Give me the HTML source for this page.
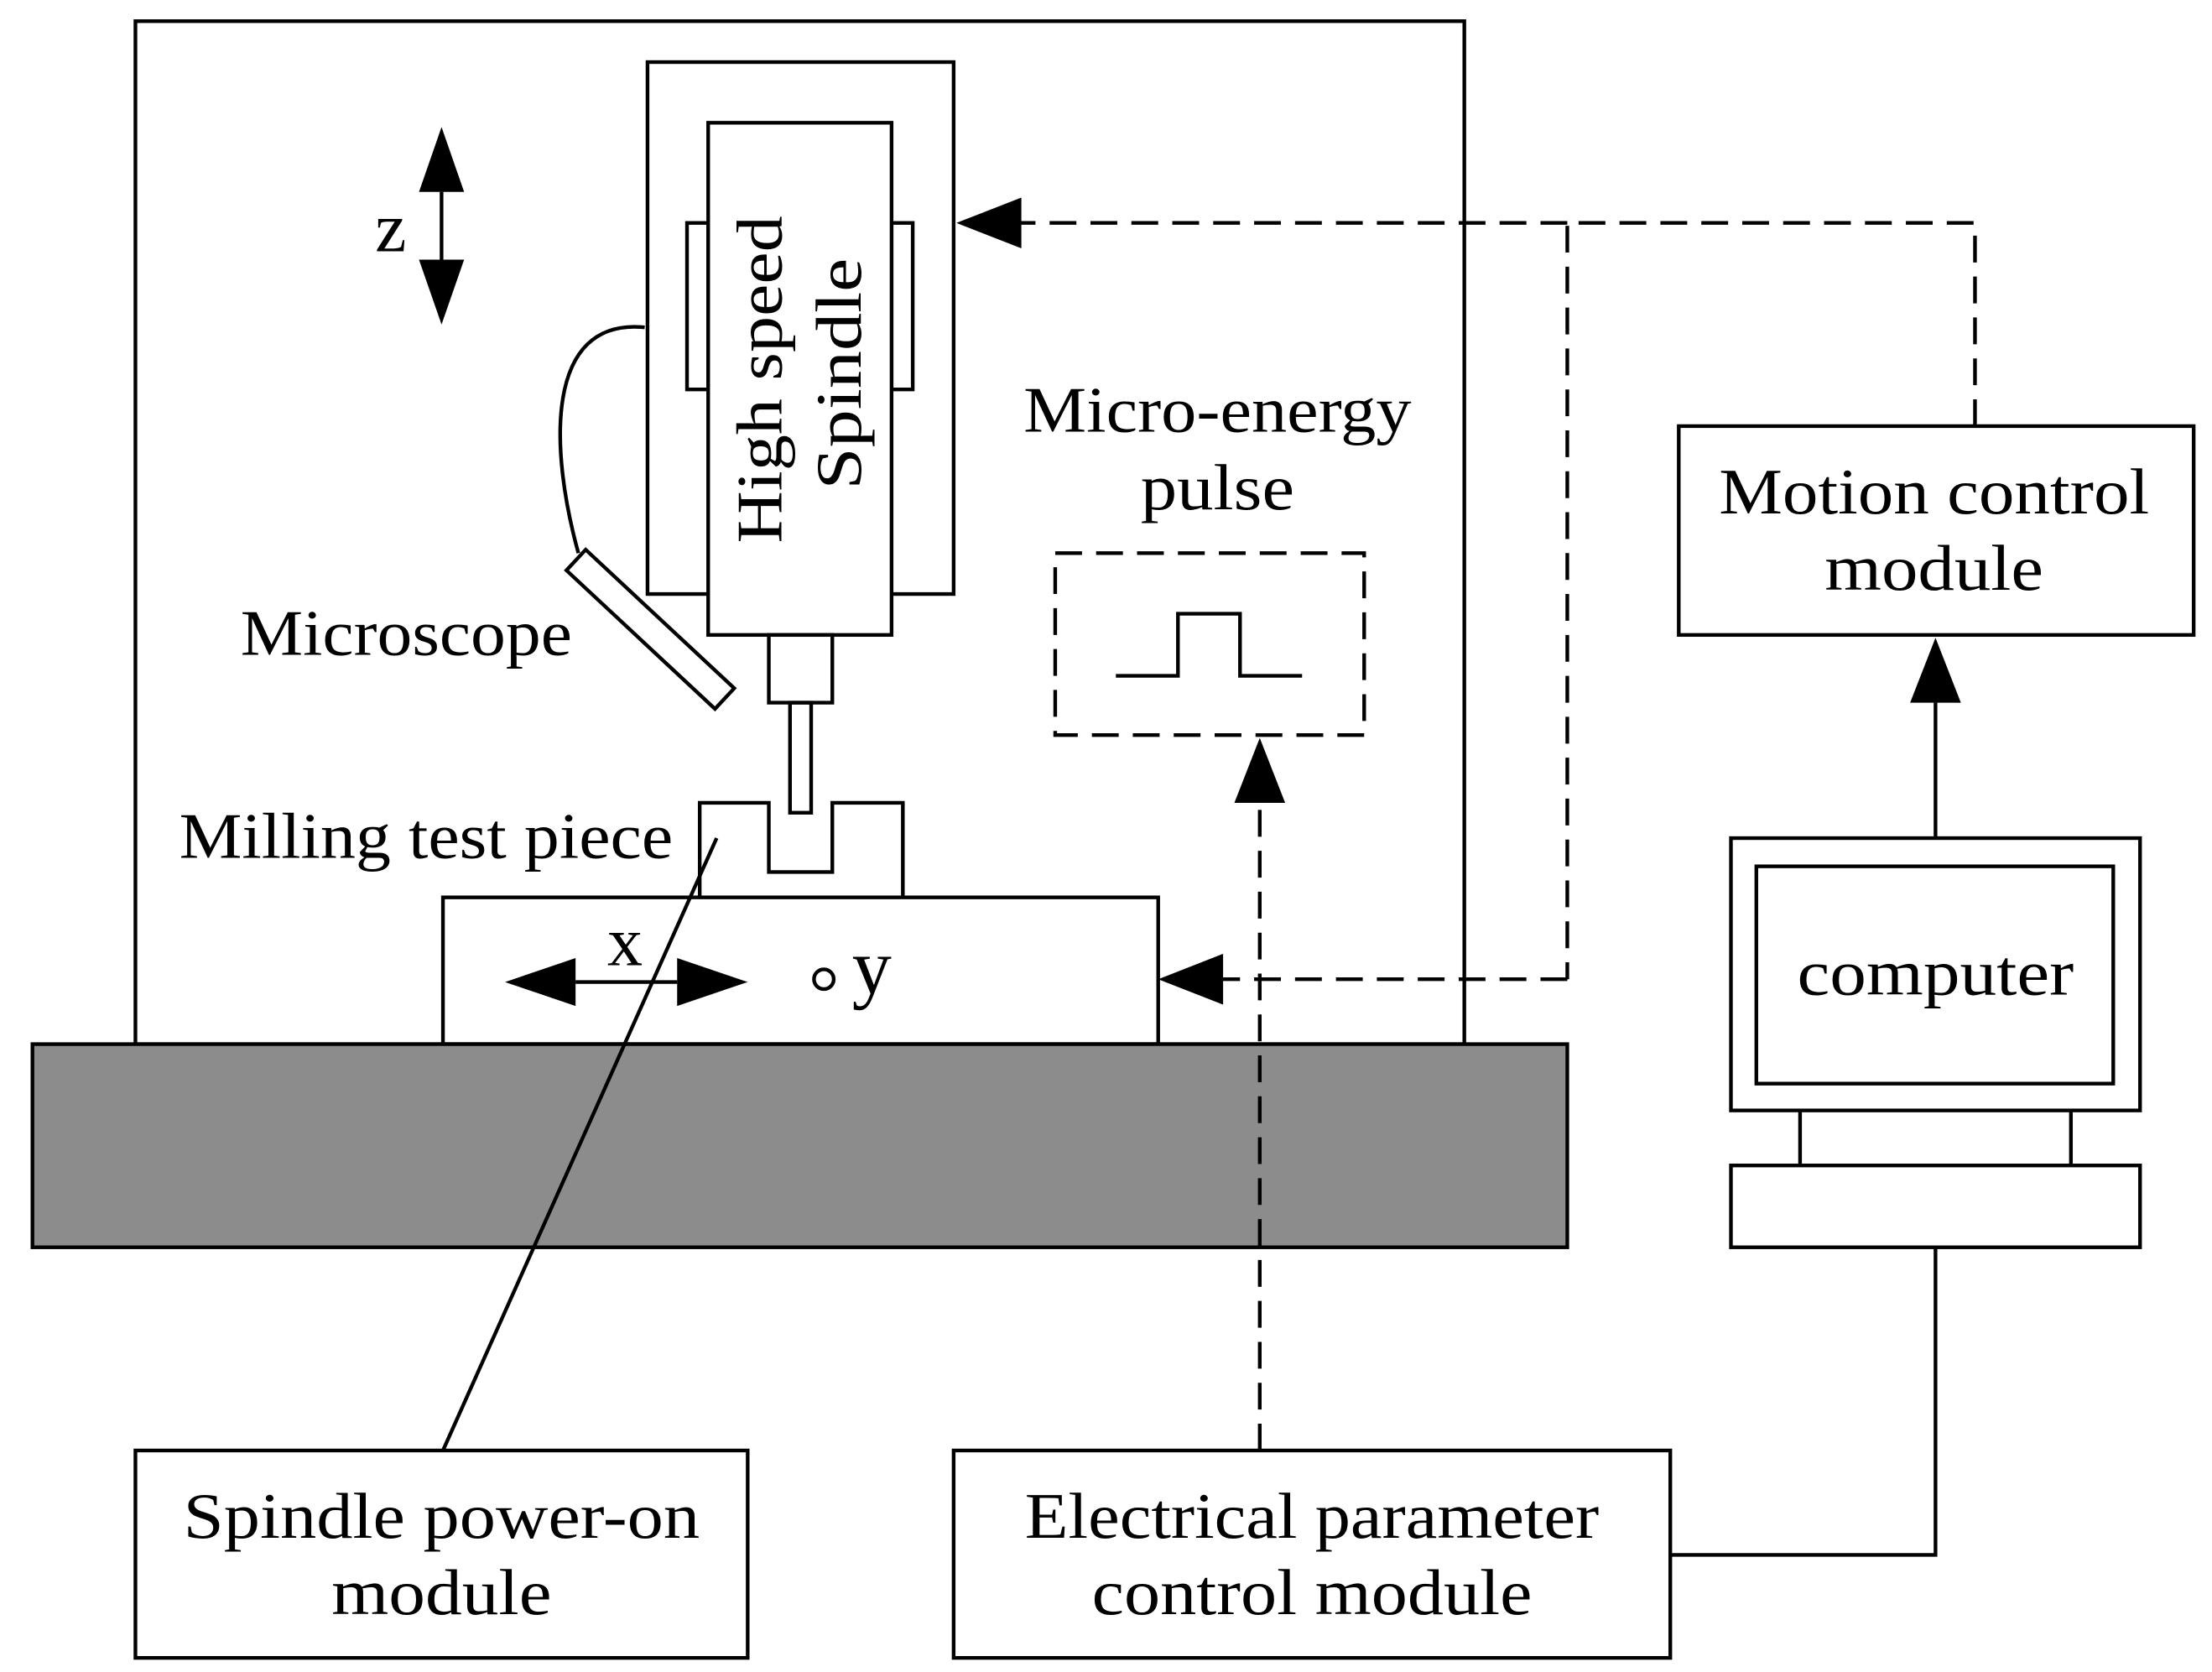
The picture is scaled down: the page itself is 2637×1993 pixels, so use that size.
<!DOCTYPE html>
<html><head><meta charset="utf-8"><style>html,body{margin:0;padding:0;background:#fff}svg{display:block}</style></head>
<body>
<svg width="2637" height="1993" viewBox="0 0 1568 1185" preserveAspectRatio="none" xmlns="http://www.w3.org/2000/svg" font-family="'Liberation Serif', serif" font-size="46">
<g fill="none" stroke="#000" stroke-width="2.6">
<rect x="96" y="15" width="942" height="725"/>
<rect x="459" y="44" width="217" height="377"/>
<rect x="487" y="158" width="15" height="118"/>
<rect x="632" y="158" width="15" height="118"/>
<rect x="502" y="87" width="130" height="363" fill="#fff"/>
<rect x="545" y="450" width="45" height="48"/>
<rect x="560" y="498" width="15" height="78"/>
<polyline points="496,636 496,569 545,569 545,618 590,618 590,569 640,569 640,636"/>
<rect x="314" y="636" width="507" height="104"/>
<rect x="23" y="740" width="1088" height="144" fill="#8c8c8c"/>
<path d="M457,232 C385,225 390,320 410,392"/>
<rect x="-72" y="-10" width="144" height="20" transform="translate(461,446) rotate(43)" fill="#fff"/>
<line x1="508" y1="594" x2="314" y2="1028"/>
<circle cx="584" cy="694" r="7"/>
<rect x="1190" y="302" width="365" height="148"/>
<rect x="1227" y="594" width="290" height="193"/>
<rect x="1245" y="614" width="253" height="154"/>
<line x1="1276" y1="787" x2="1276" y2="826"/><line x1="1468" y1="787" x2="1468" y2="826"/>
<rect x="1227" y="826" width="290" height="58"/>
<polyline points="1372,884 1372,1102 1184,1102"/>
<rect x="96" y="1028" width="434" height="147"/>
<rect x="676" y="1028" width="508" height="147"/>
<polyline points="791,479 835,479 835,435 879,435 879,479 923,479"/>
</g>
<g fill="none" stroke="#000" stroke-width="2.6" stroke-dasharray="19,10">
<rect x="748" y="392" width="219" height="129"/>
<polyline points="1400,302 1400,158 1111,158 1111,694"/>
<line x1="1111" y1="694" x2="860" y2="694"/>
<line x1="1111" y1="158" x2="718" y2="158"/>
<line x1="893" y1="1028" x2="893" y2="560"/>
</g>
<g fill="#000">
<path d="M678,158 L724,140 L724,176z"/>
<path d="M821,694 L867,676 L867,712z"/>
<path d="M893,523 L875,569 L911,569z"/>
<path d="M1372,452 L1354,498 L1390,498z"/>
<line x1="1372" y1="498" x2="1372" y2="594" stroke="#000" stroke-width="2.6"/>
<path d="M313,90 L297,136 L329,136z"/><path d="M313,230 L297,184 L329,184z"/>
<line x1="313" y1="136" x2="313" y2="184" stroke="#000" stroke-width="2.6"/>
<path d="M358,696 L408,679 L408,713z"/><path d="M530,696 L480,679 L480,713z"/>
<line x1="408" y1="696" x2="480" y2="696" stroke="#000" stroke-width="2.6"/>
</g>
<g text-anchor="middle" fill="#000">
<text x="277" y="178" font-size="50">z</text>
<text x="443" y="684" font-size="50">x</text>
<text x="618" y="704" font-size="56">y</text>
<text transform="translate(554,269) rotate(-90)" textLength="232" lengthAdjust="spacingAndGlyphs">High speed</text>
<text transform="translate(610,265) rotate(-90)" textLength="164" lengthAdjust="spacingAndGlyphs">Spindle</text>
<text x="288" y="464" textLength="235" lengthAdjust="spacingAndGlyphs">Microscope</text>
<text x="302" y="608" textLength="350" lengthAdjust="spacingAndGlyphs">Milling test piece</text>
<text x="863" y="306" textLength="275" lengthAdjust="spacingAndGlyphs">Micro-energy</text>
<text x="863" y="361" textLength="109" lengthAdjust="spacingAndGlyphs">pulse</text>
<text x="1371" y="364" textLength="305" lengthAdjust="spacingAndGlyphs">Motion control</text>
<text x="1371" y="418" textLength="155" lengthAdjust="spacingAndGlyphs">module</text>
<text x="1372" y="705" textLength="196" lengthAdjust="spacingAndGlyphs">computer</text>
<text x="313" y="1090" textLength="366" lengthAdjust="spacingAndGlyphs">Spindle power-on</text>
<text x="313" y="1144" textLength="156" lengthAdjust="spacingAndGlyphs">module</text>
<text x="930" y="1090" textLength="407" lengthAdjust="spacingAndGlyphs">Electrical parameter</text>
<text x="930" y="1144" textLength="312" lengthAdjust="spacingAndGlyphs">control module</text>
</g>
</svg>
</body></html>
